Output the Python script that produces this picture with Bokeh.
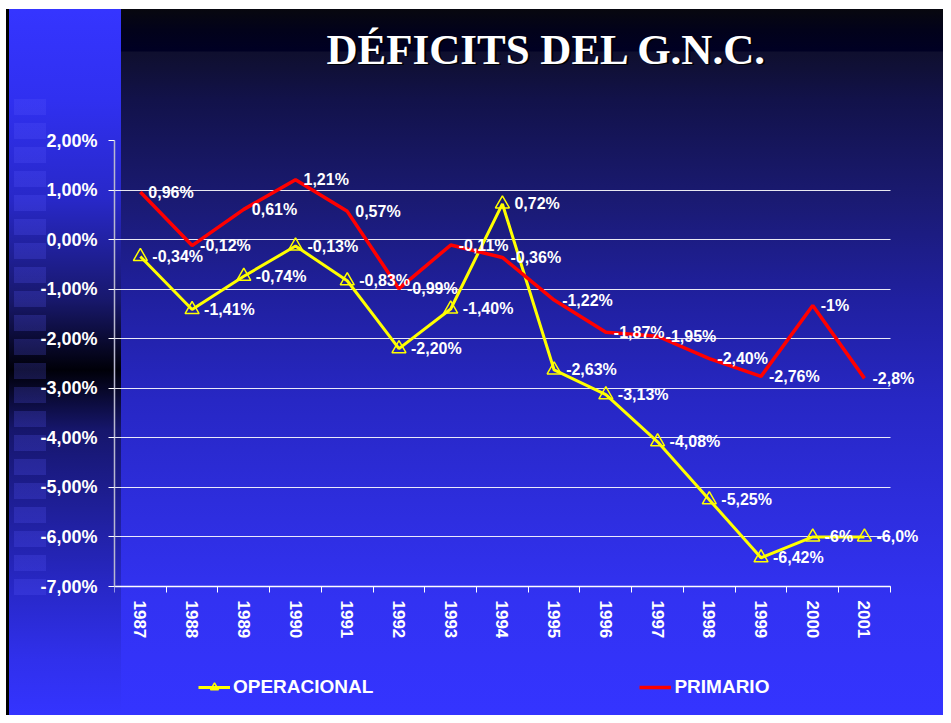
from bokeh.plotting import figure
from bokeh.models import (ColumnDataSource, LabelSet, Range1d, FixedTicker,
                          Legend, LegendItem, Title, Grid)
from bokeh.core.properties import value
from bokeh.embed import file_html
from bokeh.resources import INLINE

# ---------------- data ----------------
years = [1987, 1988, 1989, 1990, 1991, 1992, 1993, 1994, 1995, 1996, 1997, 1998, 1999, 2000, 2001]

operacional = [-0.34, -1.41, -0.74, -0.13, -0.83, -2.20, -1.40, 0.72, -2.63, -3.13,
               -4.08, -5.25, -6.42, -6.0, -6.0]
operacional_labels = ["-0,34%", "-1,41%", "-0,74%", "-0,13%", "-0,83%", "-2,20%", "-1,40%",
                      "0,72%", "-2,63%", "-3,13%", "-4,08%", "-5,25%", "-6,42%", "-6%", "-6,0%"]

primario = [0.96, -0.12, 0.61, 1.21, 0.57, -0.99, -0.11, -0.36, -1.22, -1.87,
            -1.95, -2.40, -2.76, -1.33, -2.8]
primario_labels = ["0,96%", "-0,12%", "0,61%", "1,21%", "0,57%", "-0,99%", "-0,11%",
                   "-0,36%", "-1,22%", "-1,87%", "-1,95%", "-2,40%", "-2,76%", "-1%", "-2,8%"]

y_ticks = [2, 1, 0, -1, -2, -3, -4, -5, -6, -7]
y_tick_labels = ["2,00%", "1,00%", "0,00%", "-1,00%", "-2,00%", "-3,00%", "-4,00%",
                 "-5,00%", "-6,00%", "-7,00%"]

title_text = "DÉFICITS DEL G.N.C."
series_names = ["OPERACIONAL", "PRIMARIO"]

# ---------------- figure ----------------
FONT = "Liberation Sans"
TFONT = "Liberation Serif"
YELLOW = "#FFFF00"
RED = "#FF0000"
X0 = years[0] - 0.5
X1 = years[-1] + 0.5
Y0 = min(y_ticks)
Y1 = max(y_ticks)
X_PAD_RIGHT = 0.68    # room so the last data labels are not clipped
Y_PAD_BOTTOM = 2.603  # room below the axis for year labels and legend

p = figure(width=943, height=715, output_backend="svg", toolbar_location=None,
           x_range=Range1d(X0, X1 + X_PAD_RIGHT),
           y_range=Range1d(Y0 - Y_PAD_BOTTOM, Y1),
           min_border_left=114, min_border_right=18,
           min_border_top=140, min_border_bottom=0)
p.border_fill_color = None
p.background_fill_color = None
p.outline_line_color = None

main_grad = ("linear-gradient(to bottom, #ffffff 0px, #ffffff 9px, #08080f 9px, "
             "#02021a 30px, #000024 51px, #0f0f2e 52px, #12124a 100px, #1a1a72 200px, "
             "#2020a0 300px, #2727c4 400px, #2d2ddc 500px, #3232f2 600px, #3434ff 715px)")
strip_grad = ("linear-gradient(to bottom, #3535ff 0px, #3030f0 91px, #2828c8 191px, "
              "#18186c 291px, #000008 361px, #16166c 421px, #1e1e94 491px, "
              "#2828c8 581px, #3030ec 651px, #3434ff 706px)")
blocks = ("repeating-linear-gradient(to bottom, rgba(90,90,255,0.22) 0px, "
          "rgba(90,90,255,0.22) 16px, rgba(0,0,0,0) 16px, rgba(0,0,0,0) 24px)")
p.styles = {
    "background": (
        "linear-gradient(#fff,#fff) 0px 0px / 100% 9px no-repeat, "
        "linear-gradient(#fff,#fff) 0px 0px / 6px 100% no-repeat, "
        "linear-gradient(#000,#000) 6px 9px / 3px 100% no-repeat, "
        f"{blocks} 14px 99px / 32px 500px no-repeat, "
        f"{strip_grad} 9px 9px / 112px 100% no-repeat, "
        f"{main_grad}"
    )
}

# title (with a blank spacer between it and the frame, and a drop shadow)
p.title.text = title_text
p.title.text_font = TFONT
p.title.text_font_style = "bold"
p.title.text_font_size = "43px"
p.title.text_color = "white"
p.title.align = "left"
p.title.offset = 212
p.title.vertical_align = "bottom"
if "standoff" in Title.properties():
    spacer = Title(text=" ", text_font_size="2px", standoff=62.5)
    p.add_layout(spacer, "above")
    shadow = Title(text=title_text, text_font=TFONT, text_font_style="bold",
                   text_font_size="43px", text_color="#000000", text_alpha=0.9,
                   align="left", offset=214, vertical_align="bottom", standoff=0)
    p.add_layout(shadow, "above")
    p.title.standoff = -96
else:
    spacer = Title(text=" ", text_font_size="60px")
    p.add_layout(spacer, "above")

# axes
p.xaxis.fixed_location = Y0
p.xaxis.ticker = FixedTicker(ticks=years,
                             minor_ticks=[y - 0.5 for y in years] + [X1])
p.xaxis.bounds = (X0, X1)
p.xaxis.major_label_overrides = {y: str(y) for y in years}
p.xaxis.major_tick_line_color = None
p.xaxis.major_tick_out = 6
p.xaxis.major_tick_in = 0
p.xaxis.minor_tick_line_color = "white"
p.xaxis.minor_tick_out = 6
p.xaxis.minor_tick_in = 0
p.xaxis.major_label_orientation = "vertical"
p.xaxis.major_label_standoff = 8
p.xaxis.axis_line_color = "white"
p.xaxis.axis_line_width = 1.5

p.yaxis.ticker = FixedTicker(ticks=y_ticks)
p.yaxis.bounds = (Y0, Y1)
p.yaxis.major_label_overrides = dict(zip(y_ticks, y_tick_labels))
p.yaxis.minor_tick_line_color = None
p.yaxis.major_tick_line_color = "white"
p.yaxis.major_tick_out = 6
p.yaxis.major_tick_in = 0
p.yaxis.major_label_standoff = 11
p.yaxis.axis_line_color = "#b8b8d0"
p.yaxis.axis_line_width = 1.5

for ax, size in ((p.xaxis, "17px"), (p.yaxis, "18px")):
    ax.major_label_text_font = FONT
    ax.major_label_text_font_style = "bold"
    ax.major_label_text_font_size = size
    ax.major_label_text_color = "white"

p.xgrid.grid_line_color = None
if "cross_bounds" in Grid.properties():
    p.ygrid.cross_bounds = (X0, X1)
    p.ygrid.grid_line_color = "white"
    p.ygrid.grid_line_width = 1
    p.ygrid.grid_line_alpha = 0.9
else:
    p.ygrid.grid_line_color = None
    p.segment(x0=[X0] * len(y_ticks), x1=[X1] * len(y_ticks), y0=y_ticks, y1=y_ticks,
              line_color="white", line_width=1, line_alpha=0.9)

# series
src_o = ColumnDataSource(dict(x=years, y=operacional, t=operacional_labels))
src_p = ColumnDataSource(dict(x=years, y=primario, t=primario_labels))

r_ol = p.line("x", "y", source=src_o, line_color=YELLOW, line_width=3)
r_om = p.scatter("x", "y", source=src_o, marker="triangle", size=14,
                 fill_color=None, line_color=YELLOW, line_width=1.5)
r_pl = p.line("x", "y", source=src_p, line_color=RED, line_width=3.5)

for src, dx in ((src_o, 12), (src_p, 8)):
    p.add_layout(LabelSet(x="x", y="y", text="t", source=src, x_offset=dx,
                          text_baseline="middle", text_align="left",
                          text_font=value(FONT), text_font_style="bold",
                          text_font_size="16px", text_color="white"))

# legend (inside the frame, below the year labels)
leg = Legend(items=[LegendItem(label=series_names[0], renderers=[r_ol, r_om]),
                    LegendItem(label=series_names[1], renderers=[r_pl])],
             location=(84, 17), orientation="horizontal",
             padding=0, margin=0, spacing=266,
             glyph_width=32, glyph_height=20, label_height=20,
             label_standoff=3,
             background_fill_alpha=0, border_line_color=None,
             label_text_font=FONT, label_text_font_style="bold",
             label_text_font_size="19px", label_text_color="white")
p.add_layout(leg, "center")

open("out.html", "w").write(file_html(p, INLINE))
